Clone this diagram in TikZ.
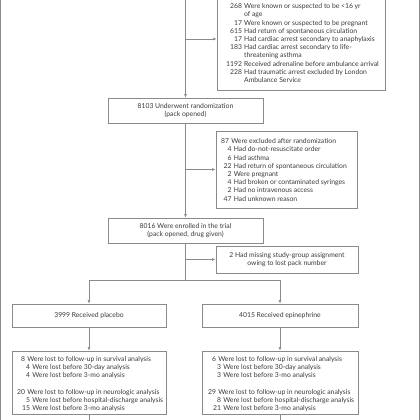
\documentclass[tikz,border=0pt]{standalone}
\usepackage{fontspec}
\setmainfont{Lato}
\usetikzlibrary{arrows.meta}
\definecolor{ln}{HTML}{8A8A8A}
\definecolor{tx}{HTML}{3A3A3A}
\newcommand{\fsz}{\fontsize{6.8}{8.2}\selectfont}
\newlength\numw
\newlength\indw
\newlength\numa
\newlength\numb
\newcommand{\mrow}[2]{\makebox[\numw][r]{#1}\hspace*{2.2pt}#2}
\newcommand{\srow}[2]{\hspace*{\indw}\makebox[\numw][r]{#1}\hspace*{2.2pt}#2}
\newcommand{\crow}[1]{\hspace*{\indw}\hspace*{\numw}\hspace*{2.2pt}#1}
\tikzset{
  fs/.style={font=\fsz, text=tx},
  box/.style={draw=ln, line width=0.6pt, fill=white, inner sep=0pt, fs, align=center},
  txt/.style={fs, inner sep=0pt, align=left, anchor=west},
  conn/.style={draw=ln, line width=0.6pt},
  arr/.style={conn, -{Latex[length=3.6pt,width=2.8pt]}}
}
\begin{document}
\settowidth\numa{\fsz 1192}%
\settowidth\numb{\fsz 20}%
\begin{tikzpicture}[x=1pt,y=-1pt]
\useasboundingbox (0,0) rectangle (420,420);
\clip (0,0) rectangle (420,420);
\fill[white] (0,0) rectangle (420,420);
\draw[ln, line width=0.8pt] (0.5,0) -- (0.5,420);
\draw[ln, line width=0.8pt] (419.5,0) -- (419.5,420);

% boxes
\node[box, minimum width=168pt, minimum height=102pt] (ex1) at (301,39) {};
\node[box, minimum width=155pt, minimum height=25pt] (rand) at (185.5,110.5)
  {8103 Underwent randomization\\(pack opened)};
\node[box, minimum width=141pt, minimum height=77pt] (ex2) at (286.5,169.5) {};
\node[box, minimum width=155pt, minimum height=25pt] (enr) at (185.5,230.5)
  {8016 Were enrolled in the trial\\(pack opened, drug given)};
\node[box, minimum width=142pt, minimum height=27pt] (ex3) at (287,259.5)
  {2 Had missing study-group assignment\\owing to lost pack number};
\node[box, minimum width=154pt, minimum height=23pt] (plac) at (89,315.5)
  {3999 Received placebo};
\node[box, minimum width=156pt, minimum height=23pt] (epi) at (280,315.5)
  {4015 Received epinephrine};
\node[box, minimum width=154pt, minimum height=63pt] (fl) at (89,382.5) {};
\node[box, minimum width=156pt, minimum height=63pt] (fr) at (280,382.5) {};

% texts of list boxes
\setlength\numw{\numa}\setlength\indw{0pt}
\node[txt] (ex1t) at (226,39) {%
\mrow{2520}{Were excluded}\\
\srow{268}{Were known or suspected to be <16 yr}\\
\crow{of age}\\
\srow{17}{Were known or suspected to be pregnant}\\
\srow{615}{Had return of spontaneous circulation}\\
\srow{17}{Had cardiac arrest secondary to anaphylaxis}\\
\srow{183}{Had cardiac arrest secondary to life-}\\
\crow{threatening asthma}\\
\srow{1192}{Received adrenaline before ambulance arrival}\\
\srow{228}{Had traumatic arrest excluded by London}\\
\crow{Ambulance Service}};

\setlength\numw{\numb}\setlength\indw{2.5pt}
\node[txt] (ex2t) at (221,170) {%
\mrow{87}{Were excluded after randomization}\\
\srow{4}{Had do-not-resuscitate order}\\
\srow{6}{Had asthma}\\
\srow{22}{Had return of spontaneous circulation}\\
\srow{2}{Were pregnant}\\
\srow{4}{Had broken or contaminated syringes}\\
\srow{2}{Had no intravenous access}\\
\srow{47}{Had unknown reason}};

\setlength\numw{\numb}\setlength\indw{5pt}
\node[txt] (flt) at (17,384) {%
\mrow{8}{Were lost to follow-up in survival analysis}\\
\srow{4}{Were lost before 30-day analysis}\\
\srow{4}{Were lost before 3-mo analysis}\\[8.2pt]
\mrow{20}{Were lost to follow-up in neurologic analysis}\\
\srow{5}{Were lost before hospital-discharge analysis}\\
\srow{15}{Were lost before 3-mo analysis}};

\node[txt] (frt) at (208,384) {%
\mrow{6}{Were lost to follow-up in survival analysis}\\
\srow{3}{Were lost before 30-day analysis}\\
\srow{3}{Were lost before 3-mo analysis}\\[8.2pt]
\mrow{29}{Were lost to follow-up in neurologic analysis}\\
\srow{8}{Were lost before hospital-discharge analysis}\\
\srow{21}{Were lost before 3-mo analysis}};

% connectors
\coordinate (topc) at (185.5,-2);
\coordinate (split) at (185.5,280);
\coordinate (fle) at (89,422);
\coordinate (fre) at (280,422);
\draw[arr] (topc) -- (rand.north);
\draw[arr] (topc |- ex1.west) -- (ex1.west);
\draw[arr] (rand.south) -- (enr.north);
\draw[arr] (rand.south |- ex2.west) -- (ex2.west);
\draw[conn] (enr.south) -- (split);
\draw[arr] (enr.south |- ex3.west) -- (ex3.west);
\draw[arr] (split) -| (plac.north);
\draw[arr] (split) -| (epi.north);
\draw[arr] (plac.south) -- (fl.north);
\draw[arr] (epi.south) -- (fr.north);
\draw[conn] (fl.south) -- (fle);
\draw[conn] (fr.south) -- (fre);
\end{tikzpicture}
\end{document}
